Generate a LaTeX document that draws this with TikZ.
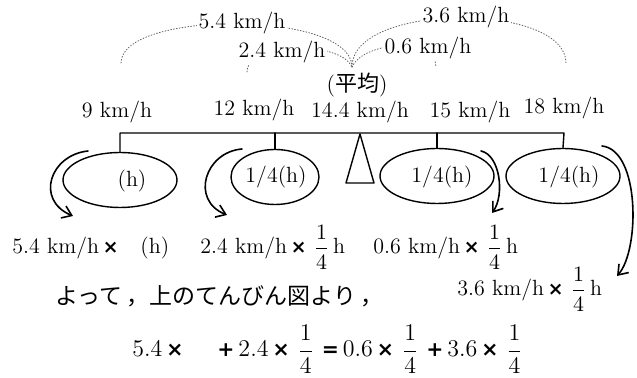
\documentclass[tikz,border=0pt]{standalone}
\usepackage{amsmath}
\usepackage{fontspec}
\newfontfamily\cjk{Noto Sans CJK JP}
\newfontfamily\opfont[Scale=0.85]{DejaVu Sans}
\newcommand\tms{{\opfont\bfseries ×}}
\newcommand\opl{{\opfont\bfseries +}}
\newcommand\oeq{{\opfont\bfseries =}}
\usetikzlibrary{shapes.geometric,arrows.meta}
\definecolor{ink}{HTML}{000000}
\definecolor{arcgray}{HTML}{666666}

\begin{document}
\begin{tikzpicture}[x=0.5pt,y=-0.5pt,line cap=round,line join=round,
  txt/.style={font=\fontsize{11}{13}\selectfont,inner sep=1pt},
  eqtxt/.style={font=\fontsize{12}{14}\selectfont,inner sep=0pt,anchor=base west},
  rowtxt/.style={txt,inner sep=0pt,anchor=base west},
  pan/.style={draw=ink,ellipse,line width=0.7pt,inner sep=0pt,minimum height=27.5pt},
  arcline/.style={arcgray,densely dotted,line width=0.45pt},
  swing/.style={ink,line width=0.8pt,-{Straight Barb[length=4.5pt,width=6.5pt]}},
  beam/.style={ink,line width=0.7pt}]
  \useasboundingbox (0,0) rectangle (637,378);

  % ---- feet of the dotted arcs ----
  \coordinate (f9) at (121,63);
  \coordinate (f12) at (247,72);
  \coordinate (favg) at (352,67);
  \coordinate (f15) at (436,67);
  \coordinate (f18) at (566,63);
  \draw[arcline] (f9) .. controls (121,10) and (352,10) .. (favg);
  \draw[arcline] (f12) .. controls (247,42) and (340,40) .. (favg);
  \draw[arcline] (favg) .. controls (365,40) and (436,38) .. (f15);
  \draw[arcline] (favg) .. controls (352,2) and (566,2) .. (f18);
  % differences
  \node[txt,fill=white] (d54) at (242,23) {5.4 km/h};
  \node[txt,fill=white] (d24) at (282,52) {2.4 km/h};
  \node[txt,fill=white] (d06) at (428,48) {0.6 km/h};
  \node[txt,fill=white] (d36) at (466,17) {3.6 km/h};
  \node[txt] (avg) at (357,85) {({\cjk 平均})};

  % ---- speeds on the beam ----
  \foreach \n/\x/\y/\val in {v9/117/112/9,v12/254/110/12,v144/360/112/14.4,v15/470/112/15,v18/564/108/18}{
    \node[txt] (\n) at (\x,\y) {\val~km/h};
  }

  % ---- balance ----
  \node[pan,minimum width=57pt] (e1) at (120,180) {};
  \node[pan,minimum width=44pt] (e2) at (275,177) {};
  \node[pan,minimum width=57pt] (e3) at (437,176) {};
  \node[pan,minimum width=57pt] (e4) at (563,176) {};
  \node[txt] (t1) at (132,181) {(h)};
  \foreach \n/\x in {t2/276,t3/442,t4/569}{
    \node[txt] (\n) at (\x,177) {1/4(h)};
  }
  \coordinate (bl) at (120,133);
  \coordinate (br) at (564,133);
  \draw[beam] (e1.north) -- (bl) -- (br) -- (e4.north);
  \draw[beam] (e2.north) -- (e2.north |- bl);
  \draw[beam] (e3.north) -- (e3.north |- bl);
  \coordinate (tip) at (360,134);
  \draw[beam] (tip) -- (346,183) -- (374,183) -- cycle;

  % ---- swinging arrows ----
  \coordinate (s1) at (88,151);  \coordinate (z1) at (73,216);
  \coordinate (s2) at (242,149); \coordinate (z2) at (227,215);
  \coordinate (s3) at (481,151); \coordinate (z3) at (492,213);
  \coordinate (s4) at (602,146); \coordinate (z4) at (617,276);
  \draw[swing] (s1) .. controls (50,155) and (35,200) .. (z1);
  \draw[swing] (s2) .. controls (205,152) and (190,200) .. (z2);
  \draw[swing] (s3) .. controls (500,155) and (505,195) .. (z3);
  \draw[swing] (s4) .. controls (640,150) and (640,250) .. (z4);

  % ---- products ----
  \node[rowtxt] (p54) at (12,254) {5.4 km/h\,\tms};
  \node[rowtxt] (ph) at (140,254) {(h)};
  \node[rowtxt] (p24) at (200,254) {2.4 km/h\,\tms\ $\dfrac{1}{4}$\,h};
  \node[rowtxt] (p06) at (373,254) {0.6 km/h\,\tms\ $\dfrac{1}{4}$\,h};
  \node[rowtxt] (p36) at (457,296) {3.6 km/h\,\tms\ $\dfrac{1}{4}$\,h};

  % ---- conclusion ----
  \node[anchor=base west,inner sep=0pt,font=\cjk\fontsize{11.5}{14}\selectfont] (so) at (55,305) {よって\kern2pt，上のてんびん図より\kern2pt，};
  \node[eqtxt] (q1) at (132,357) {5.4\,\tms};
  \node[eqtxt] (q2) at (217,357) {\opl\,2.4\,\tms\ $\dfrac{1}{4}$\ \oeq\,0.6\,\tms\ $\dfrac{1}{4}$\ \opl\,3.6\,\tms\ $\dfrac{1}{4}$};
\end{tikzpicture}
\end{document}
